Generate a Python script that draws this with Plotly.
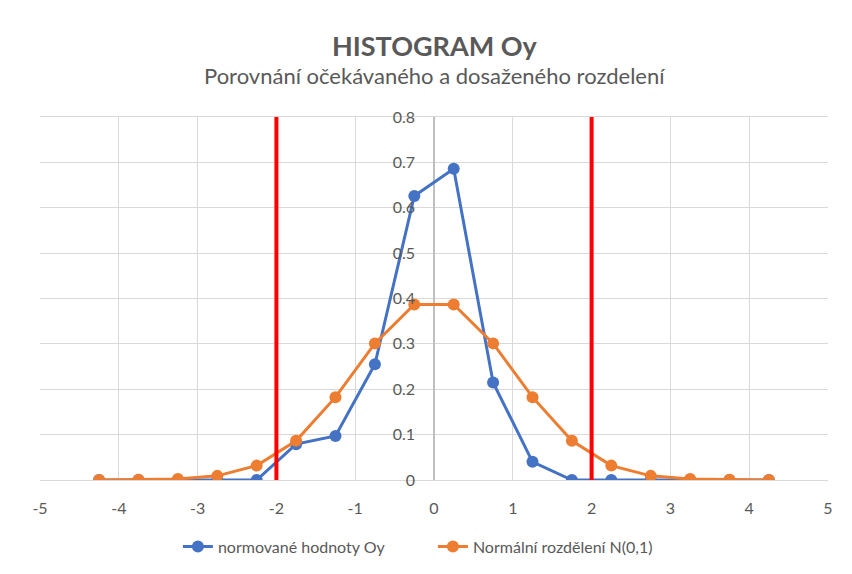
import plotly.graph_objects as go

x_centers = [-4.25, -3.75, -3.25, -2.75, -2.25, -1.75, -1.25, -0.75, -0.25,
             0.25, 0.75, 1.25, 1.75, 2.25, 2.75, 3.25, 3.75, 4.25]
observed = [0, 0, 0, 0, 0, 0.079, 0.097, 0.255, 0.626,
            0.686, 0.215, 0.040, 0, 0, 0, 0, 0, 0]
normal_pdf = [0.00005, 0.00035, 0.0020, 0.0091, 0.0317, 0.0863, 0.1826, 0.3011, 0.3867,
              0.3867, 0.3011, 0.1826, 0.0863, 0.0317, 0.0091, 0.0020, 0.00035, 0.00005]
limits = [-2, 2]
x_tick_vals = [-5, -4, -3, -2, -1, 0, 1, 2, 3, 4, 5]
x_tick_labels = ["-5", "-4", "-3", "-2", "-1", "0", "1", "2", "3", "4", "5"]
name_obs = "normované hodnoty Oy"
name_norm = "Normální rozdělení N(0,1)"
title = "HISTOGRAM Oy"
subtitle = "Porovnání očekávaného a dosaženého rozdelení"

FONT = "Lato"
GREY = "#595959"

fig = go.Figure()
fig.add_trace(go.Scatter(x=x_centers, y=observed, name=name_obs, mode="lines+markers",
                         line=dict(color="#4472C4", width=3),
                         marker=dict(color="#4472C4", size=12)))
fig.add_trace(go.Scatter(x=x_centers, y=normal_pdf, name=name_norm, mode="lines+markers",
                         line=dict(color="#ED7D31", width=3),
                         marker=dict(color="#ED7D31", size=12)))

for v in limits:
    fig.add_shape(type="line", xref="x", yref="y", x0=v, x1=v, y0=0, y1=0.8,
                  line=dict(color="#FF0000", width=4), layer="above")

fig.add_annotation(text="<b>" + title + "</b>", xref="paper", yref="paper",
                   x=0.5, y=1.198, xanchor="center", yanchor="middle", showarrow=False,
                   font=dict(family=FONT, size=27, color=GREY))
fig.add_annotation(text=subtitle, xref="paper", yref="paper",
                   x=0.5, y=1.115, xanchor="center", yanchor="middle", showarrow=False,
                   font=dict(family=FONT, size=22, color=GREY))

fig.update_layout(
    width=844, height=566,
    margin=dict(l=32, r=24, t=109, b=93),
    paper_bgcolor="white", plot_bgcolor="white",
    font=dict(family=FONT, size=16, color=GREY),
    showlegend=True,
    legend=dict(orientation="h", x=0.175, xanchor="left", y=-0.18, yanchor="middle",
                font=dict(family=FONT, size=16, color=GREY),
                entrywidth=210, entrywidthmode="pixels"),
    xaxis=dict(range=[-5, 5], tickvals=x_tick_vals, ticktext=x_tick_labels,
               showgrid=True, gridcolor="#D9D9D9",
               gridwidth=1, zeroline=True, zerolinecolor="#BFBFBF", zerolinewidth=1.5,
               showline=True, linecolor="#D9D9D9", mirror=True, ticks="",
               automargin=False, ticklabelstandoff=14,
               tickfont=dict(size=16, color=GREY)),
    yaxis=dict(range=[0, 0.8], dtick=0.1, tick0=0, showgrid=True, gridcolor="#D9D9D9",
               gridwidth=1, zeroline=True, zerolinecolor="#D9D9D9", showline=False,
               anchor="free", position=0.5, ticks="", tickformat=".1~f",
               automargin=False, ticklabelstandoff=19,
               tickfont=dict(size=16, color=GREY)),
)

fig.write_html("out.html")
